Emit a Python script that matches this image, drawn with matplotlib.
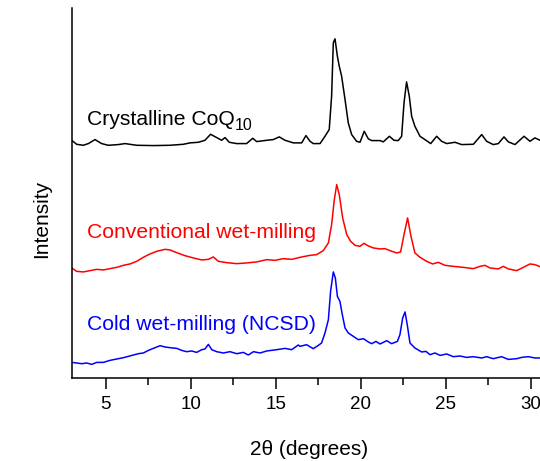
import numpy as np
import matplotlib.pyplot as plt
from matplotlib.ticker import MultipleLocator

plt.rcParams['font.family'] = ['Liberation Sans', 'DejaVu Sans']

# crystalline CoQ10 (2theta, intensity above its own baseline)
tt_cryst = [3.00, 3.29, 3.68, 3.98, 4.37, 4.76, 5.15, 5.74, 6.14, 6.82, 7.80, 8.78, 9.57,
            9.96, 10.45, 10.84, 11.17, 11.53, 11.82, 12.02, 12.27, 12.70, 13.29, 13.65,
            13.88, 14.47, 14.86, 15.21, 15.55, 16.04, 16.53, 16.78, 17.02, 17.21, 17.61,
            17.90, 18.15, 18.29, 18.39, 18.49, 18.63, 18.74, 18.88, 19.08, 19.27, 19.47,
            19.76, 19.96, 20.21, 20.45, 20.65, 21.14, 21.33, 21.69, 21.96, 22.21, 22.41,
            22.55, 22.70, 22.86, 23.00, 23.19, 23.49, 23.78, 24.12, 24.47, 24.76, 25.06,
            25.55, 25.94, 26.63, 27.12, 27.41, 27.80, 28.10, 28.43, 28.69, 29.08, 29.61,
            29.96, 30.25, 30.55]
i_cryst = [4.3, 0.3, -0.7, 1, 5, 1, -0.7, 0, 1, -0.7, -1, -0.7, 0.3,
           1.7, 2.3, 4.3, 10.3, 7, 4.3, 7, 2.3, 1, 1, 6.3,
           3, 4.3, 5, 7.7, 4.3, 1.7, 1.7, 9, 3.3, 1, 1,
           8.3, 15, 48.3, 101.7, 105.7, 88.3, 78.3, 68.3, 45, 21.7, 10,
           3.3, 2.3, 13.3, 5.7, 4, 4, 2.7, 8.3, 4.3, 4, 8.3,
           41.7, 62.7, 48.3, 28.3, 18.3, 8.3, 5, 1, 8.3, 3.3, 1,
           2.3, 0, 0.3, 10, 3.3, 0, 1, 7.7, 2.7, 0, 8.3,
           3.3, 6.7, 4.3]

# conventional wet-milling
tt_conv = [3.00, 3.29, 3.68, 4.08, 4.47, 4.86, 5.25, 5.65, 6.04, 6.43, 6.82, 7.21, 7.61,
           8.00, 8.49, 8.78, 9.17, 9.66, 10.15, 10.65, 11.04, 11.33, 11.63, 12.12, 12.70,
           13.29, 13.88, 14.47, 14.96, 15.45, 15.94, 16.43, 17.02, 17.41, 17.80, 18.10,
           18.29, 18.45, 18.59, 18.74, 18.94, 19.18, 19.41, 19.67, 19.96, 20.19, 20.45,
           20.74, 21.14, 21.43, 21.72, 22.12, 22.35, 22.55, 22.76, 22.96, 23.19, 23.49,
           23.88, 24.23, 24.57, 24.96, 25.45, 26.04, 26.63, 27.02, 27.31, 27.61, 28.10,
           28.39, 28.69, 29.18, 29.57, 29.96, 30.25, 30.55]
i_conv = [3.7, 0.3, -0.3, 1, 2.3, 1.7, 3, 4.3, 6.3, 7.7, 10.3, 14.3, 17.7,
          20.3, 22.3, 21.7, 19, 16, 13.7, 11.7, 12.3, 14.7, 10.3, 9, 8,
          8.7, 9.7, 12, 11.3, 13, 12.3, 14.3, 16.3, 17, 21, 28.7,
          47, 72, 87, 77, 53.7, 37, 30.3, 26.3, 25.3, 28.3, 25.7,
          23.7, 22.7, 23, 21, 18.7, 19.7, 37, 53.7, 35.3, 18.7, 14.3,
          10.3, 7.7, 9.3, 6.3, 5.3, 4.3, 3, 5.3, 6.3, 3.7, 2.7,
          5.3, 2.7, 1, 4.3, 7.7, 7, 5]

# cold wet-milling (NCSD)
tt_cold = [3.00, 3.29, 3.59, 3.88, 4.18, 4.47, 4.86, 5.25, 5.65, 6.04, 6.33, 6.63, 6.92,
           7.22, 7.51, 7.80, 8.20, 8.49, 8.78, 9.18, 9.47, 9.76, 10.06, 10.35, 10.65,
           10.84, 11.04, 11.24, 11.53, 11.92, 12.31, 12.71, 13.10, 13.39, 13.69, 14.08,
           14.47, 15.06, 15.55, 15.94, 16.33, 16.43, 16.82, 17.21, 17.51, 17.70, 17.90,
           18.10, 18.23, 18.39, 18.51, 18.63, 18.78, 18.92, 19.08, 19.27, 19.57, 19.86,
           20.16, 20.45, 20.65, 20.90, 21.14, 21.53, 21.82, 22.16, 22.31, 22.47, 22.61,
           22.74, 22.90, 23.19, 23.59, 23.84, 24.08, 24.37, 24.67, 25.06, 25.45, 25.84,
           26.23, 26.63, 27.12, 27.41, 27.80, 28.29, 28.69, 29.18, 29.47, 29.86, 30.25,
           30.55]
i_cold = [2.3, 1.7, 1, 1.7, 0.3, 2.3, 2.3, 4.3, 5.7, 7, 8.3, 9.7, 11,
          11.7, 14.3, 16.3, 19, 17.7, 17, 16.3, 14.3, 13, 13.7, 12.3, 15,
          15.7, 20.3, 15, 13, 11.7, 13, 11, 12.3, 9.7, 13, 11.7,
          13.7, 15, 16.3, 15, 19.7, 18.3, 20, 16, 19.3, 21.7, 31.7,
          45, 73.3, 92.7, 86.7, 68.3, 63.3, 50, 36.7, 31.7, 28.3, 25,
          26, 22.7, 21, 23.3, 20.7, 24, 21, 23.3, 30, 46.7, 52.7,
          40, 21.7, 16.7, 12.7, 13.3, 10, 11.7, 9.3, 10.7, 8, 8.7,
          7.3, 8, 6.7, 8, 6, 8, 5.3, 6, 7.3, 8, 6.7,
          6.7]

fig = plt.figure(figsize=(5.4, 4.61), dpi=100)
ax = fig.add_axes([0.1328, 0.1807, 0.8672, 0.803])

ax.plot(tt_cryst, np.array(i_cryst) + 233, color='black', lw=1.1)
ax.plot(tt_conv, np.array(i_conv) + 106, color='red', lw=1.1)
ax.plot(tt_cold, np.array(i_cold) + 13, color='blue', lw=1.1)

t = ax.text(3.88, 253, 'Crystalline CoQ', color='black', fontsize=15.2, va='baseline')
ax.annotate('10', xy=(1, 0), xycoords=t, xytext=(0.3, -0.8), textcoords='offset points',
            fontsize=11.5, va='baseline', ha='left', color='black')
ax.text(3.88, 139.7, 'Conventional wet-milling', color='red', fontsize=15.2, va='baseline')
ax.text(3.88, 47.3, 'Cold wet-milling (NCSD)', color='blue', fontsize=15.2, va='baseline')

ax.set_xlim(3, 30.55)
ax.set_ylim(0, 370)
ax.xaxis.set_major_locator(MultipleLocator(5))
ax.xaxis.set_minor_locator(MultipleLocator(2.5))
ax.set_yticks([])
for s in ['top', 'right']:
    ax.spines[s].set_visible(False)
for s in ['left', 'bottom']:
    ax.spines[s].set_linewidth(1.1)
ax.tick_params(axis='x', which='major', length=8, width=1.1, pad=5, labelsize=13.5)
ax.tick_params(axis='x', which='minor', length=5, width=1.1)

fig.text(309 / 540, 1 - 455 / 461, '2θ (degrees)', fontsize=15, ha='center', va='baseline')
fig.text(42 / 540, 1 - 219 / 461, 'Intensity', fontsize=15, rotation=90, ha='center', va='center')

fig.savefig('out.png', dpi=100)
